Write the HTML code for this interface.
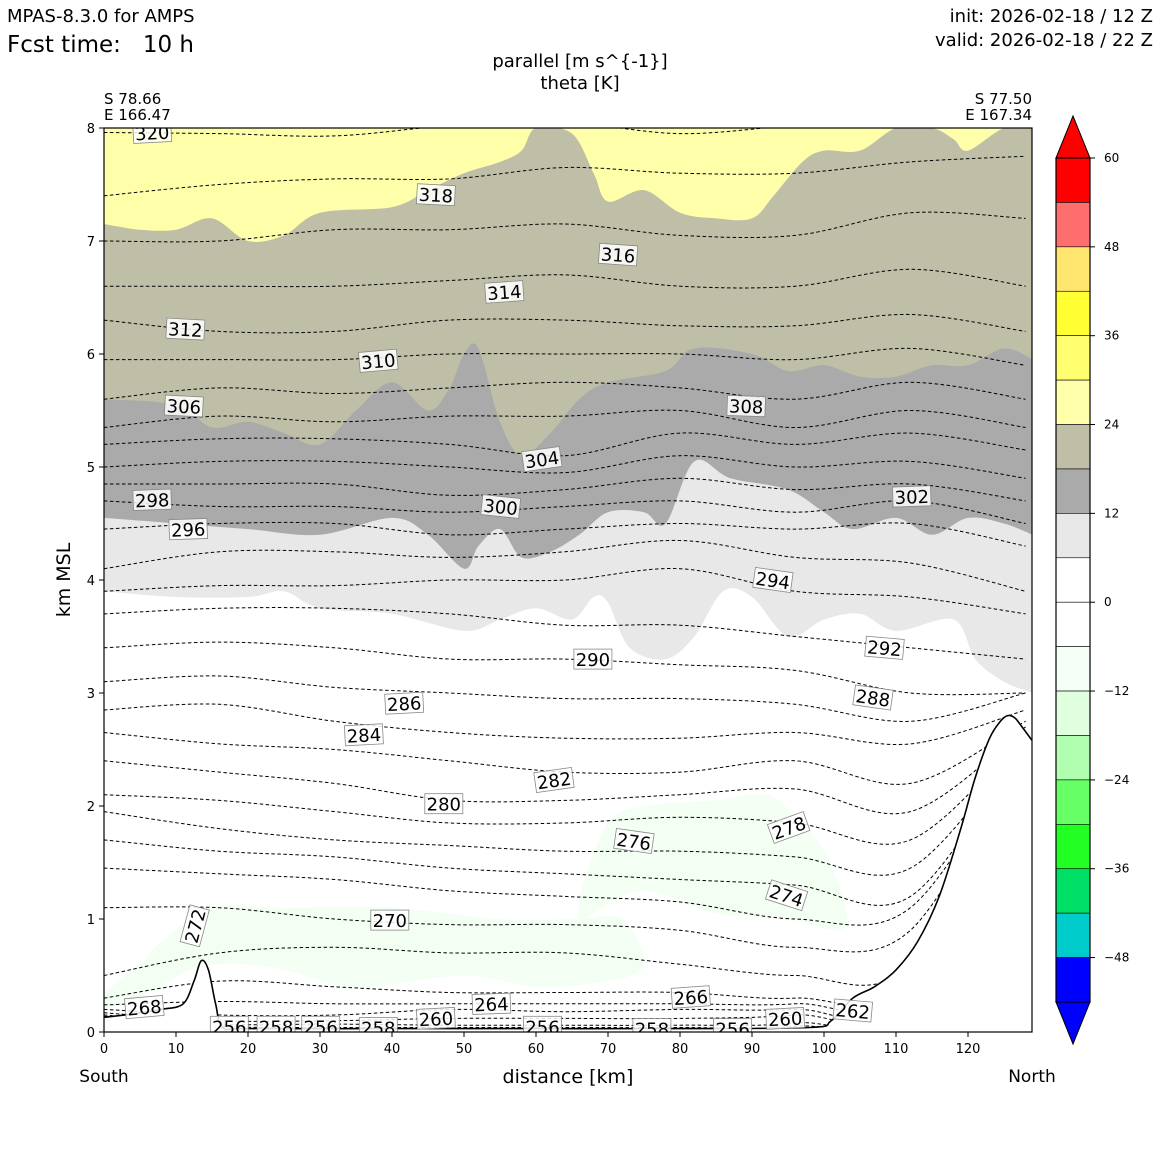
<!DOCTYPE html>
<html><head><meta charset="utf-8">
<style>
html,body{margin:0;padding:0;background:#fff;}
svg text{font-family:"DejaVu Sans","Liberation Sans",sans-serif;}
</style></head>
<body>
<svg id="chart" width="1160" height="1160" viewBox="0 0 1160 1160" xmlns="http://www.w3.org/2000/svg">
<rect width="1160" height="1160" fill="#fff"/>
<text x="7" y="22" font-size="18">MPAS-8.3.0 for AMPS</text>
<text x="7" y="52" font-size="23">Fcst time:&#160;&#160;&#160;10 h</text>
<text x="1153" y="22" font-size="18" text-anchor="end">init: 2026-02-18 / 12 Z</text>
<text x="1153" y="46" font-size="18" text-anchor="end">valid: 2026-02-18 / 22 Z</text>
<text x="580" y="67" font-size="18" text-anchor="middle">parallel [m s^{-1}]</text>
<text x="580" y="89" font-size="18" text-anchor="middle">theta [K]</text>
<text x="104" y="104" font-size="15">S 78.66</text>
<text x="104" y="120" font-size="15">E 166.47</text>
<text x="1032" y="104" font-size="15" text-anchor="end">S 77.50</text>
<text x="1032" y="120" font-size="15" text-anchor="end">E 167.34</text>
<defs><clipPath id="pc"><rect x="104" y="128" width="928" height="904"/></clipPath></defs>
<g id="plot" clip-path="url(#pc)"></g>
<g id="axes"></g>
<g id="cbar"></g>
</svg>
<script>
// ---- data ----
const xSamples=[0,16,32,48,64,80,96,112,128];
const thetaLevels=[320,318,316,314,312,310,308,306,304,302,300,298,296,294,292,290,288,286,284,282,280,278,276,274,272,270,268,266,264,262,260,258,256];
const thetaHeights=[
[7.96,7.95,7.93,8.02,8.05,7.95,8.02,8.05,8.05],
[7.4,7.5,7.55,7.55,7.65,7.6,7.6,7.7,7.75],
[7.0,7.0,7.1,7.1,7.15,7.05,7.05,7.25,7.2],
[6.6,6.6,6.6,6.65,6.7,6.6,6.6,6.75,6.6],
[6.3,6.2,6.2,6.3,6.3,6.25,6.25,6.35,6.2],
[5.95,5.95,5.95,6.0,6.0,6.0,5.95,6.05,5.9],
[5.6,5.7,5.65,5.7,5.75,5.7,5.6,5.75,5.6],
[5.35,5.45,5.4,5.45,5.45,5.5,5.35,5.5,5.35],
[5.2,5.25,5.25,5.2,5.1,5.3,5.2,5.3,5.15],
[5.0,5.05,5.05,5.0,4.95,5.1,5.0,5.05,4.9],
[4.85,4.85,4.85,4.75,4.8,4.9,4.8,4.85,4.7],
[4.7,4.65,4.65,4.6,4.65,4.7,4.6,4.7,4.5],
[4.45,4.5,4.5,4.4,4.45,4.5,4.45,4.5,4.3],
[4.1,4.25,4.25,4.2,4.25,4.35,4.2,4.15,3.9],
[3.9,3.95,3.95,4.0,4.0,4.1,3.9,3.85,3.7],
[3.7,3.75,3.75,3.7,3.6,3.6,3.5,3.4,3.3],
[3.4,3.45,3.4,3.3,3.3,3.25,3.2,3.0,3.0],
[3.1,3.15,3.05,3.0,2.95,2.95,2.9,2.75,3.0],
[2.85,2.9,2.75,2.65,2.6,2.6,2.65,2.55,2.85],
[2.65,2.55,2.5,2.4,2.3,2.3,2.4,2.2,2.75],
[2.4,2.3,2.2,2.05,2.05,2.1,2.15,1.95,2.7],
[2.1,2.05,1.95,1.85,1.85,1.9,1.85,1.7,2.65],
[1.95,1.8,1.7,1.65,1.6,1.6,1.55,1.45,2.62],
[1.7,1.6,1.55,1.45,1.4,1.35,1.3,1.2,2.6],
[1.45,1.4,1.35,1.25,1.2,1.15,1.0,1.1,2.6],
[1.1,1.1,1.0,0.95,0.95,0.9,0.75,0.9,2.6],
[0.5,0.7,0.75,0.7,0.7,0.6,0.5,0.6,2.6],
[0.3,0.45,0.4,0.35,0.35,0.35,0.3,0.45,2.6],
[0.24,0.27,0.25,0.25,0.25,0.25,0.25,0.38,2.6],
[0.2,0.15,0.15,0.2,0.18,0.2,0.2,0.3,2.6],
[0.17,0.1,0.1,0.12,0.12,0.12,0.15,0.28,2.6],
[0.15,0.07,0.07,0.06,0.06,0.06,0.08,0.27,2.6],
[0.14,0.05,0.04,0.04,0.04,0.04,0.05,0.26,2.6]
];
const terrainX=[0,4,8,11,12.5,13.5,14.5,15.5,16.5,20,40,60,80,98,101,104,107,110,113,116,119,121,123,124.5,125.5,126.5,127.5,128.9];
const terrainH=[0.13,0.16,0.2,0.25,0.45,0.63,0.55,0.25,0.04,0.03,0.03,0.03,0.03,0.04,0.1,0.3,0.4,0.55,0.8,1.2,1.8,2.25,2.6,2.75,2.8,2.78,2.7,2.58];
// wind shading boundaries (km)
const oliveTopX=[0,5,10,15,20,25,30,40,45,50,55,58,60,65,68,70,75,80,85,90,93,97,100,105,110,115,118,120,125,129];
const oliveTopH=[7.15,7.1,7.1,7.2,7.0,7.05,7.25,7.3,7.45,7.6,7.7,7.8,8.0,7.95,7.6,7.35,7.45,7.25,7.2,7.2,7.4,7.7,7.8,7.8,8.0,8.0,7.9,7.8,8.0,8.0];
const grayTopX=[0,10,15,20,25,30,35,40,45,48,50,52,55,58,62,66,70,78,82,90,95,100,105,110,115,120,125,129];
const grayTopH=[5.6,5.55,5.35,5.4,5.3,5.2,5.5,5.75,5.5,5.7,6.0,6.05,5.4,5.1,5.3,5.6,5.75,5.85,6.05,6.0,5.85,5.9,5.8,5.8,5.9,5.9,6.05,5.95];
const grayBotX=[0,10,20,30,40,45,50,52,55,58,62,66,70,75,78,82,87,95,100,104,110,115,120,125,129];
const grayBotH=[4.55,4.5,4.45,4.4,4.55,4.4,4.1,4.3,4.45,4.2,4.25,4.4,4.6,4.6,4.5,5.05,4.9,4.8,4.6,4.45,4.55,4.4,4.55,4.5,4.4];
const lgBotX=[0,10,20,25,30,40,50,55,60,65,68,70,73,78,82,86,90,95,100,105,110,118,121,125,129];
const lgBotH=[3.9,3.85,3.85,3.9,3.75,3.7,3.55,3.65,3.75,3.65,3.85,3.8,3.4,3.3,3.5,3.9,3.85,3.5,3.65,3.7,3.55,3.65,3.3,3.1,3.0];
const greenAX=[66,70,75,85,92,96,100,103,102,95,85,75,68,66];
const greenAH=[1.2,1.85,2.0,2.05,2.1,1.9,1.6,1.1,0.9,1.0,1.05,1.25,1.05,0.9];
const greenBX=[0,5,8,15,25,40,55,66,72,75,70,60,50,35,25,18,12,5,0];
const greenBH=[0.35,0.6,0.8,1.1,1.1,1.1,1.0,1.0,1.0,0.6,0.45,0.4,0.5,0.4,0.55,0.6,0.55,0.3,0.2];
// contour labels: level, x km, h km, rotation
const labLevels=[320,318,316,314,312,310,306,308,304,300,298,296,302,294,292,290,288,286,284,282,280,278,276,274,272,270,268,266,264,262,260,258,256,258,256,256,258,256,260];
const labX=[6.7,46.1,71.4,55.6,11.3,38.1,11.1,89.2,60.8,55.1,6.7,11.7,112.2,92.9,108.4,67.9,106.8,41.7,36.1,62.5,47.2,95.1,73.6,94.8,12.6,39.7,5.6,81.5,53.8,104,46.1,38.1,17.4,23.9,30.1,60.9,76.1,87.3,94.6];
const labH=[7.96,7.41,6.88,6.55,6.22,5.94,5.54,5.54,5.07,4.65,4.71,4.45,4.74,4.0,3.40,3.30,2.96,2.91,2.63,2.23,2.02,1.81,1.69,1.21,0.94,0.99,0.22,0.31,0.25,0.19,0.12,0.04,0.05,0.05,0.05,0.05,0.03,0.03,0.12];
const labRot=[-3,3,4,-4,3,-5,3,2,-8,6,-2,-2,-2,8,5,0,8,-3,-3,-8,0,-20,8,18,-75,0,-5,-4,-2,5,-3,0,0,0,0,0,0,0,-3];
const xTicks=[0,10,20,30,40,50,60,70,80,90,100,110,120];
const yTicks=[0,1,2,3,4,5,6,7,8];
const cbarBounds=[60,54,48,42,36,30,24,18,12,6,0,-6,-12,-18,-24,-30,-36,-42,-48,-54];
const cbarColors=["#ff0000","#ff6e6e","#ffe66e","#ffff33","#ffff70","#ffffaa","#bfbfa8","#aaaaaa","#e8e8e8","#ffffff","#ffffff","#f5fff5","#dfffdf","#b0ffb0","#66ff66","#22ff22","#00e066","#00cccc","#0000ff"];
const cbarTicks=[60,48,36,24,12,0,-12,-24,-36,-48];

// ---- scales ----
const X0=104,X1=1032,Y0=1032,Y1=128;
const xs=k=>X0+k*7.2;
const ys=h=>Y0-h*113;
const cbY=v=>158+(60-v)*(844/114);
const NS="http://www.w3.org/2000/svg";
function mk(tag,attrs,parent){const e=document.createElementNS(NS,tag);for(const k in attrs)e.setAttribute(k,attrs[k]);parent.appendChild(e);return e;}
function smooth(pts){
  let d="M"+pts[0][0].toFixed(1)+","+pts[0][1].toFixed(1);
  for(let i=0;i<pts.length-1;i++){
    const p0=pts[Math.max(0,i-1)],p1=pts[i],p2=pts[i+1],p3=pts[Math.min(pts.length-1,i+2)];
    const c1=[p1[0]+(p2[0]-p0[0])/6,p1[1]+(p2[1]-p0[1])/6],c2=[p2[0]-(p3[0]-p1[0])/6,p2[1]-(p3[1]-p1[1])/6];
    d+="C"+c1[0].toFixed(1)+","+c1[1].toFixed(1)+" "+c2[0].toFixed(1)+","+c2[1].toFixed(1)+" "+p2[0].toFixed(1)+","+p2[1].toFixed(1);
  }
  return d;
}
const plot=document.getElementById('plot');
const axes=document.getElementById('axes');
const cbar=document.getElementById('cbar');

let el=mk('rect',{x:X0,y:Y1,width:X1-X0,height:Y0-Y1,fill:"#ffffaa"},plot);


function band(topX,topH,fill,name){
  const pts=topX.map((x,i)=>[xs(x),ys(topH[i])]);
  const d=smooth(pts)+"L"+xs(130)+","+Y0+"L"+xs(-1)+","+Y0+"Z";
  const e=mk('path',{d:d,fill:fill},plot);
  
  
}
band(oliveTopX,oliveTopH,"#bfbfa8","wind-18-24-region");
band(grayTopX,grayTopH,"#aaaaaa","wind-12-18-region");
band(grayBotX,grayBotH,"#e8e8e8","wind-6-12-region");
band(lgBotX,lgBotH,"#ffffff","wind-weak-region");
function blob(bx,bh,fill,name){
  const pts=bx.map((x,i)=>[xs(x),ys(bh[i])]);
  const e=mk('path',{d:smooth(pts)+"Z",fill:fill},plot);
  
  
}
blob(greenAX,greenAH,"#f3fff3","negative-wind-blob-upper");
blob(greenBX,greenBH,"#f3fff3","negative-wind-band-lower");

thetaLevels.forEach((lv,j)=>{
  const pts=xSamples.map((x,i)=>[xs(x),ys(thetaHeights[j][i])]);
  const e=mk('path',{d:smooth(pts),fill:"none",stroke:"#000","stroke-width":1,"stroke-dasharray":"3.5,2.5"},plot);
  
  
});
const tpts=terrainX.map((x,i)=>[xs(x),ys(terrainH[i])]);
el=mk('path',{d:smooth(tpts)+"L"+xs(130)+","+(Y0+5)+"L"+xs(-1)+","+(Y0+5)+"Z",fill:"#fff",stroke:"none"},plot);


el=mk('path',{d:smooth(tpts),fill:"none",stroke:"#000","stroke-width":1.6},plot);



labLevels.forEach((lv,i)=>{
  const cx=xs(labX[i]),cy=ys(labH[i]);
  const g=mk('g',{transform:"translate("+cx.toFixed(1)+","+cy.toFixed(1)+") rotate("+labRot[i]+")"},plot);
  
  
  mk('rect',{x:-19,y:-10,width:38,height:20,fill:"#ffffff","fill-opacity":0.85,stroke:"#888","stroke-width":0.8},g);
  const t=mk('text',{x:0,y:7,"font-size":18,"text-anchor":"middle"},g);
  t.textContent=lv;
});

el=mk('rect',{x:X0,y:Y1,width:X1-X0,height:Y0-Y1,fill:"none",stroke:"#000","stroke-width":1.2},axes);


xTicks.forEach(v=>{
  mk('line',{x1:xs(v),x2:xs(v),y1:Y0,y2:Y0+5,stroke:"#000"},axes);
  const t=mk('text',{x:xs(v),y:Y0+21,"font-size":13,"text-anchor":"middle"},axes);
  
  
  t.textContent=v;
});
yTicks.forEach(v=>{
  mk('line',{x1:X0-5,x2:X0,y1:ys(v),y2:ys(v),stroke:"#000"},axes);
  const t=mk('text',{x:X0-9,y:ys(v)+5,"font-size":13,"text-anchor":"end"},axes);
  
  
  t.textContent=v;
});
el=mk('text',{x:568,y:1083,"font-size":19,"text-anchor":"middle"},axes);el.textContent="distance [km]";


el=mk('text',{x:0,y:0,"font-size":19,"text-anchor":"middle",transform:"translate(70,580) rotate(-90)"},axes);el.textContent="km MSL";


el=mk('text',{x:104,y:1082,"font-size":17,"text-anchor":"middle"},axes);el.textContent="South";


el=mk('text',{x:1032,y:1082,"font-size":17,"text-anchor":"middle"},axes);el.textContent="North";



const CX=1056,CW=34;
cbarColors.forEach((c,i)=>{
  const y1=cbY(cbarBounds[i]),y2=cbY(cbarBounds[i+1]);
  const r=mk('rect',{x:CX,y:y1,width:CW,height:y2-y1,fill:c,stroke:"#000","stroke-width":0.6},cbar);
  
  
});
el=mk('polygon',{points:CX+","+cbY(60)+" "+(CX+CW/2)+",116 "+(CX+CW)+","+cbY(60),fill:"#ff0000",stroke:"#000"},cbar);


el=mk('polygon',{points:CX+","+cbY(-54)+" "+(CX+CW/2)+",1044 "+(CX+CW)+","+cbY(-54),fill:"#0000ff",stroke:"#000"},cbar);


el=mk('rect',{x:CX,y:cbY(60),width:CW,height:cbY(-54)-cbY(60),fill:"none",stroke:"#000","stroke-width":1.2},cbar);


cbarTicks.forEach(v=>{
  mk('line',{x1:CX+CW,x2:CX+CW+5,y1:cbY(v),y2:cbY(v),stroke:"#000"},cbar);
  const t=mk('text',{x:CX+CW+14,y:cbY(v)+4,"font-size":12},cbar);
  
  
  t.textContent=v<0?"\u2212"+(-v):v;
});
</script>
</body></html>
